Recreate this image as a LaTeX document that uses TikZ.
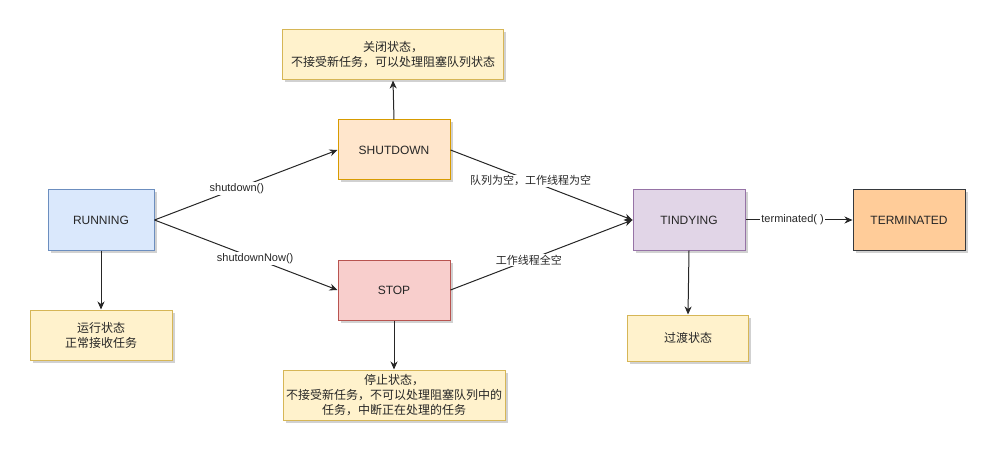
\documentclass[tikz,border=0pt]{standalone}
\usepackage{fontspec}
\setmainfont{Liberation Sans}
\newfontfamily\cjk{Noto Sans CJK SC}
\usetikzlibrary{arrows.meta, shadows}
\definecolor{runfill}{HTML}{DAE8FC}
\definecolor{rundraw}{HTML}{6C8EBF}
\definecolor{shutfill}{HTML}{FFE6CC}
\definecolor{shutdraw}{HTML}{D79B00}
\definecolor{stopfill}{HTML}{F8CECC}
\definecolor{stopdraw}{HTML}{B85450}
\definecolor{tidyfill}{HTML}{E1D5E7}
\definecolor{tidydraw}{HTML}{9673A6}
\definecolor{termfill}{HTML}{FFCC99}
\definecolor{termdraw}{HTML}{36393D}
\definecolor{notefill}{HTML}{FFF2CC}
\definecolor{notedraw}{HTML}{D6B656}

\begin{document}
\begin{tikzpicture}[x=1pt, y=-1pt,
  shade/.style={drop shadow={shadow xshift=2.5pt, shadow yshift=-2.5pt, fill=black, opacity=0.18}},
  state/.style={draw, line width=1pt, shade, inner sep=0pt, minimum width=112pt, minimum height=60pt, text=black!85, font=\fontsize{12}{15}\selectfont},
  note/.style={draw=notedraw, line width=1pt, fill=notefill, shade, inner sep=0pt, minimum height=50pt, align=center, text=black!85, font=\cjk\fontsize{12}{15}\selectfont},
  edgelabel/.style={fill=white, inner sep=1pt, text=black!85, font=\fontsize{11}{13}\selectfont},
  cjklabel/.style={edgelabel, font=\cjk\fontsize{11}{13}\selectfont},
  link/.style={-{Stealth[length=8pt, width=7pt, inset=2.5pt]}, line width=1pt, black!85}]
\useasboundingbox (0,0) rectangle (1001,457);

\node [state, draw=rundraw, fill=runfill, minimum width=106pt] (running) at (101,220) {RUNNING};
\node [state, draw=shutdraw, fill=shutfill] (shutdown) at (394,150) {SHUTDOWN};
\node [state, draw=stopdraw, fill=stopfill] (stop) at (394,290) {STOP};
\node [state, draw=tidydraw, fill=tidyfill] (tindying) at (689,220) {TINDYING};
\node [state, draw=termdraw, fill=termfill] (terminated) at (909,220) {TERMINATED};

\node [note, minimum width=221pt] (shutnote) at (393,55) {关闭状态，\\不接受新任务，可以处理阻塞队列状态};
\node [note, minimum width=142pt] (runnote) at (101,335) {运行状态\\正常接收任务};
\node [note, minimum width=222pt] (stopnote) at (394,395) {停止状态，\\不接受新任务，不可以处理阻塞队列中的\\任务，中断正在处理的任务};
\node [note, minimum width=121pt, minimum height=46pt] (tidynote) at (688,338) {过渡状态};

\draw [link] (running.east) -- node [edgelabel, pos=.45] {shutdown()} (shutdown.west);
\draw [link] (running.east) -- node [edgelabel, pos=.55] {shutdownNow()} (stop.west);
\draw [link] (shutdown.east) -- node [cjklabel, pos=.44] {队列为空，工作线程为空} (tindying.west);
\draw [link] (stop.east) -- node [cjklabel, pos=.43] {工作线程全空} (tindying.west);
\draw [link] (tindying.east) -- node [edgelabel, pos=.44] {terminated( )} (terminated.west);

\draw [link] (shutdown.north) -- (shutnote.south);
\draw [link] (running.south) -- (runnote.north);
\draw [link] (stop.south) -- (stopnote.north);
\draw [link] (tindying.south) -- (tidynote.north);
\end{tikzpicture}
\end{document}
